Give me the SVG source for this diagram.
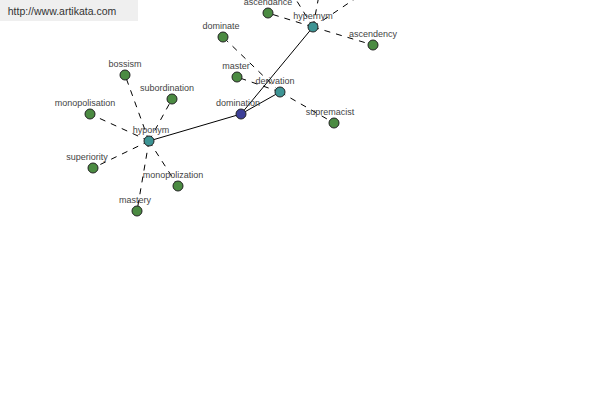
<svg xmlns="http://www.w3.org/2000/svg" width="600" height="400" viewBox="0 0 600 400">
<style>
.d{stroke:#000;stroke-width:1;stroke-dasharray:6,6;fill:none}
.s{stroke:#000;stroke-width:1;fill:none}
.n{stroke:#222;stroke-width:1}
.g{fill:#4b8b42}
.t{fill:#3d9494}
.b{fill:#3c3f98}
text{font-family:"Liberation Sans",Arial,sans-serif;font-size:9px;fill:#444;text-anchor:middle}
</style>
<rect x="0" y="0" width="138" height="21" fill="#efefef"/>
<text x="62" y="15" style="font-size:10.5px;fill:#333">http://www.artikata.com</text>
<g id="connectors">
<line class="d" x1="313" y1="27" x2="268" y2="13"/>
<line class="d" x1="313" y1="27" x2="373" y2="45"/>
<line class="d" x1="313" y1="27" x2="290" y2="-10"/>
<line class="d" x1="313" y1="27" x2="320" y2="-10"/>
<line class="d" x1="313" y1="27" x2="368" y2="-10"/>
<line class="d" x1="280" y1="92" x2="223" y2="37"/>
<line class="d" x1="280" y1="92" x2="237" y2="77"/>
<line class="d" x1="280" y1="92" x2="334" y2="123"/>
<line class="d" x1="149" y1="141" x2="125" y2="75"/>
<line class="d" x1="149" y1="141" x2="172" y2="99"/>
<line class="d" x1="149" y1="141" x2="90" y2="114"/>
<line class="d" x1="149" y1="141" x2="93" y2="168"/>
<line class="d" x1="149" y1="141" x2="178" y2="186"/>
<line class="d" x1="149" y1="141" x2="137" y2="211"/>
<line class="s" x1="149" y1="141" x2="241" y2="114"/>
<line class="s" x1="241" y1="114" x2="280" y2="92"/>
<line class="s" x1="241" y1="114" x2="313" y2="27"/>
</g>
<g id="hypernym"><circle class="n t" cx="313" cy="27" r="5"/><text x="313" y="19">hypernym</text></g>
<g id="ascendance"><circle class="n g" cx="268" cy="13" r="5"/><text x="268" y="5">ascendance</text></g>
<g id="ascendency"><circle class="n g" cx="373" cy="45" r="5"/><text x="373" y="37">ascendency</text></g>
<g id="dominate"><circle class="n g" cx="223" cy="37" r="5"/><text x="221" y="29">dominate</text></g>
<g id="master"><circle class="n g" cx="237" cy="77" r="5"/><text x="236" y="69">master</text></g>
<g id="derivation"><circle class="n t" cx="280" cy="92" r="5"/><text x="275" y="84">derivation</text></g>
<g id="domination"><circle class="n b" cx="241" cy="114" r="5"/><text x="238" y="106">domination</text></g>
<g id="supremacist"><circle class="n g" cx="334" cy="123" r="5"/><text x="330" y="115">supremacist</text></g>
<g id="hyponym"><circle class="n t" cx="149" cy="141" r="5"/><text x="151" y="133">hyponym</text></g>
<g id="bossism"><circle class="n g" cx="125" cy="75" r="5"/><text x="125" y="67">bossism</text></g>
<g id="subordination"><circle class="n g" cx="172" cy="99" r="5"/><text x="167" y="91">subordination</text></g>
<g id="monopolisation"><circle class="n g" cx="90" cy="114" r="5"/><text x="85" y="106">monopolisation</text></g>
<g id="superiority"><circle class="n g" cx="93" cy="168" r="5"/><text x="87" y="160">superiority</text></g>
<g id="monopolization"><circle class="n g" cx="178" cy="186" r="5"/><text x="173" y="178">monopolization</text></g>
<g id="mastery"><circle class="n g" cx="137" cy="211" r="5"/><text x="135" y="203">mastery</text></g>
</svg>
